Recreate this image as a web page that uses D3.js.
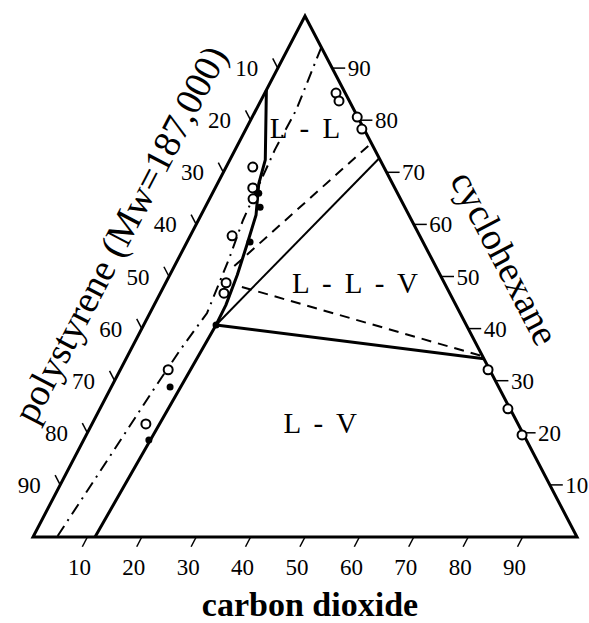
<!DOCTYPE html>
<html>
<head>
<meta charset="utf-8">
<script src="https://cdnjs.cloudflare.com/ajax/libs/d3/7.8.5/d3.min.js"></script>
<style>
body { margin: 0; background: #fff; }
svg { display: block; font-family: "Liberation Serif", "Times New Roman", serif; }
</style>
</head>
<body>
<svg id="chart" width="589" height="623"></svg>
<script>
// compositions in wt% : [polystyrene, carbon dioxide, cyclohexane]
var tickValues = [10, 20, 30, 40, 50, 60, 70, 80, 90];

// solid phase boundary (L-L / L-V)
var boundaryLine = [[14.2, 0, 85.8], [21.1, 6.5, 72.4], [24.6, 7.6, 67.8], [28.1, 10.1, 61.8],
  [32.7, 11.3, 56.0], [37.3, 12.4, 50.3], [42.3, 13.2, 44.5], [46.0, 13.3, 40.7], [88.6, 11.4, 0]];
// dash-dot curve
var dashDotLine = [[0, 6.0, 94.0], [10.6, 7.4, 82.0], [18.4, 7.3, 74.3], [31.0, 8.2, 60.8],
  [37.0, 9.3, 53.7], [46.5, 10.5, 43.0], [55.0, 9.1, 35.9], [63.8, 8.0, 28.2],
  [77.2, 6.5, 16.3], [95.6, 4.4, 0]];
// three phase triangle (solid tie lines)
var llvTies = [
  [[46.0, 13.3, 40.7], [0, 27.3, 72.7]],
  [[46.0, 13.3, 40.7], [0, 65.8, 34.2]]
];
// dashed tie lines
var dashedTies = [
  [[37.0, 11.0, 52.0], [0, 24.4, 75.6]],
  [[37.6, 14.4, 48.0], [0, 65.3, 34.7]]
];
// experimental points
var openPoints = [[24.1, 4.9, 71.0], [26.1, 6.9, 67.0], [27.1, 8.0, 64.9], [34.5, 7.7, 57.8],
  [40.1, 11.1, 48.8], [41.5, 11.7, 46.8], [59.1, 8.8, 32.1], [68.4, 9.9, 21.7],
  [1.7, 13.1, 85.2], [1.9, 14.4, 83.7], [0.1, 19.3, 80.6], [0.4, 21.3, 78.3],
  [0.3, 67.6, 32.1], [0.4, 75.0, 24.6], [0.3, 80.1, 19.6]];
var filledPoints = [[25.5, 8.5, 66.0], [26.6, 10.1, 63.3], [31.8, 11.6, 56.6],
  [46.0, 13.3, 40.7], [60.4, 10.8, 28.8], [69.4, 12.0, 18.6]];

// region labels, anchored at their baseline centre
var regionNames = ['L - L', 'L - L - V', 'L - V'];
var regionAt = [[11.7, 11.7, 76.6], [17.4, 35.8, 46.8], [37.2, 42.8, 20.0]];

// layout
var xLeft = 33, xRight = 577, yBase = 537, yApex = 16;
var x = d3.scaleLinear().domain([0, 100]).range([xLeft, xRight]);
var y = d3.scaleLinear().domain([0, 100]).range([yBase, yApex]);

function px(d) { return x(d[1] + d[2] / 2); }
function py(d) { return y(d[2]); }

var svg = d3.select('#chart');

// edge directions
var edgeLen = Math.sqrt(Math.pow((xRight - xLeft) / 2, 2) + Math.pow(yBase - yApex, 2));
var ux = (xRight - xLeft) / 2 / edgeLen, uy = (yBase - yApex) / edgeLen;
var angle = Math.atan2(yBase - yApex, (xRight - xLeft) / 2) * 180 / Math.PI;

var line = d3.line().x(px).y(py);

// triangle frame
svg.append('path')
  .attr('d', line([[100, 0, 0], [0, 100, 0], [0, 0, 100]]) + 'Z')
  .style('fill', 'none')
  .style('stroke', '#000')
  .style('stroke-width', 3)
  .style('stroke-linejoin', 'miter');

// bottom axis (carbon dioxide)
var tl = 11;
tickValues.forEach(function(v) {
  var d = [100 - v, v, 0];
  svg.append('line')
    .attr('x1', px(d)).attr('y1', py(d))
    .attr('x2', px(d) - ux * tl).attr('y2', py(d) + uy * tl)
    .style('stroke', '#000').style('stroke-width', 1.5);
  svg.append('text')
    .attr('x', px(d) - 8).attr('y', py(d) + 38)
    .attr('text-anchor', 'middle')
    .style('font-size', '23px')
    .text(v);
});

// right axis (cyclohexane)
tickValues.forEach(function(v) {
  var d = [0, 100 - v, v];
  svg.append('line')
    .attr('x1', px(d)).attr('y1', py(d))
    .attr('x2', px(d) + 13).attr('y2', py(d))
    .style('stroke', '#000').style('stroke-width', 1.5);
  svg.append('text')
    .attr('x', px(d) + 27).attr('y', py(d) + 8)
    .attr('text-anchor', 'middle')
    .style('font-size', '23px')
    .text(v);
});

// left axis (polystyrene)
tickValues.forEach(function(v) {
  var d = [v, 0, 100 - v];
  svg.append('line')
    .attr('x1', px(d)).attr('y1', py(d))
    .attr('x2', px(d) - ux * tl).attr('y2', py(d) - uy * tl)
    .style('stroke', '#000').style('stroke-width', 1.5);
  svg.append('text')
    .attr('x', px(d) - 31).attr('y', py(d) + 8)
    .attr('text-anchor', 'middle')
    .style('font-size', '23px')
    .text(v);
});

// axis titles
svg.append('text')
  .attr('x', 310).attr('y', 616)
  .attr('text-anchor', 'middle')
  .style('font-size', '34px')
  .style('font-weight', 'bold')
  .text('carbon dioxide');

svg.append('text')
  .attr('transform', 'translate(120,234) rotate(' + (-angle) + ')')
  .attr('text-anchor', 'middle')
  .attr('dominant-baseline', 'central')
  .style('font-size', '38px')
  .text('polystyrene (Mw=187,000)');

svg.append('text')
  .attr('transform', 'translate(505,258) rotate(' + angle + ')')
  .attr('text-anchor', 'middle')
  .attr('dominant-baseline', 'central')
  .style('font-size', '38px')
  .text('cyclohexane');

// dash-dot curve
svg.append('path')
  .attr('d', line(dashDotLine))
  .style('fill', 'none')
  .style('stroke', '#000')
  .style('stroke-width', 2)
  .style('stroke-dasharray', '12,6,2,6');

// dashed tie lines
dashedTies.forEach(function(t) {
  svg.append('path')
    .attr('d', line(t))
    .style('fill', 'none')
    .style('stroke', '#000')
    .style('stroke-width', 2)
    .style('stroke-dasharray', '10,7');
});

// three phase tie lines
svg.append('path')
  .attr('d', line(llvTies[0]))
  .style('fill', 'none').style('stroke', '#000').style('stroke-width', 2);
svg.append('path')
  .attr('d', line(llvTies[1]))
  .style('fill', 'none').style('stroke', '#000').style('stroke-width', 3);

// phase boundary
svg.append('path')
  .attr('d', line(boundaryLine))
  .style('fill', 'none')
  .style('stroke', '#000')
  .style('stroke-width', 3)
  .style('stroke-linejoin', 'round');

// points
svg.selectAll('circle.open')
  .data(openPoints)
  .enter().append('circle')
  .attr('class', 'open')
  .attr('cx', px).attr('cy', py)
  .attr('r', 4.5)
  .style('fill', '#fff')
  .style('stroke', '#000')
  .style('stroke-width', 2);

svg.selectAll('circle.filled')
  .data(filledPoints)
  .enter().append('circle')
  .attr('class', 'filled')
  .attr('cx', px).attr('cy', py)
  .attr('r', 3.5)
  .style('fill', '#000');

// region labels
regionNames.forEach(function(name, i) {
  svg.append('text')
    .attr('x', px(regionAt[i])).attr('y', py(regionAt[i]))
    .attr('text-anchor', 'middle')
    .style('font-size', '29px')
    .style('word-spacing', '6px')
    .text(name);
});
</script>
</body>
</html>
